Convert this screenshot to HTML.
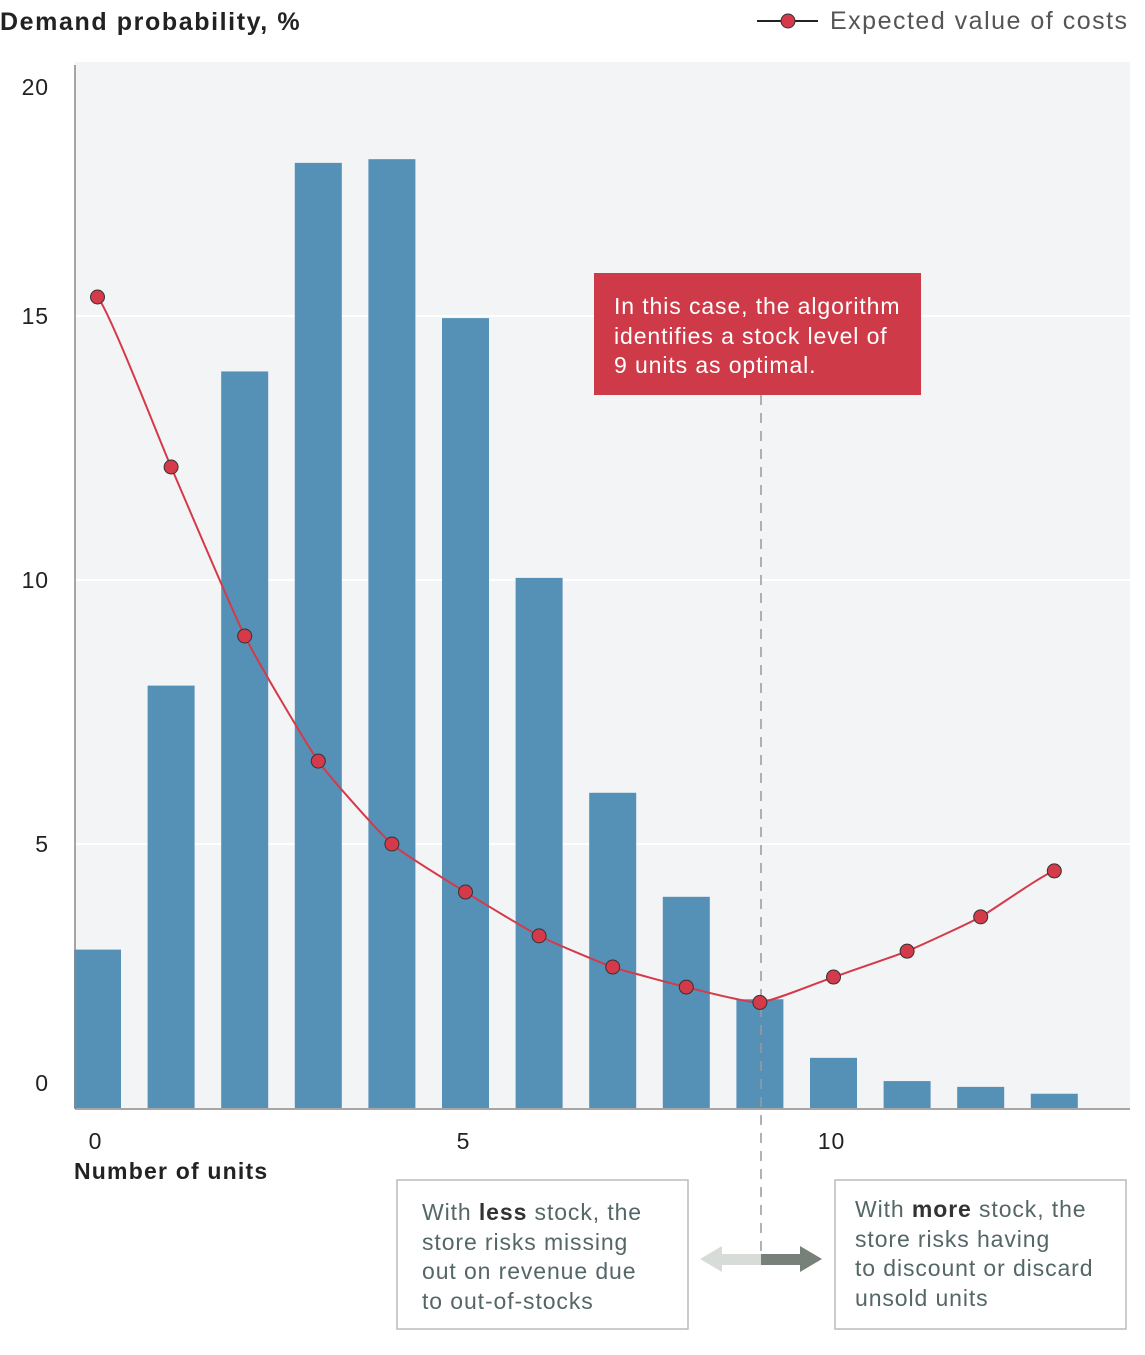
<!DOCTYPE html>
<html><head><meta charset="utf-8"><style>
body{margin:0;background:#fff;font-family:"Liberation Sans",sans-serif;}
svg text{font-family:"Liberation Sans",sans-serif;letter-spacing:0.9px;}
</style></head><body>
<svg id="c" width="1145" height="1350" xmlns="http://www.w3.org/2000/svg">
<rect x="75" y="62" width="1055" height="1046" fill="#f3f4f6"/>
<g id="grid"></g><g id="bars"></g>
<line x1="761" y1="395" x2="761" y2="1255" stroke="#999" stroke-width="1.5" stroke-dasharray="10,8"/>
<g id="line"></g>
<line x1="75" y1="65" x2="75" y2="1109" stroke="#888" stroke-width="1.5"/>
<line x1="75" y1="1109" x2="1130" y2="1109" stroke="#888" stroke-width="1.5"/>
<g id="ylab"></g><g id="xlab"></g>
<text x="0" y="30" font-size="25" font-weight="bold" fill="#222" style="letter-spacing:1.6px">Demand probability, %</text>
<text x="74" y="1179" font-size="23" font-weight="bold" fill="#222" style="letter-spacing:1.2px">Number of units</text>
<g>
<line x1="757" y1="21" x2="818" y2="21" stroke="#222" stroke-width="2"/>
<circle cx="788" cy="21" r="7" fill="#d43a49" stroke="#333" stroke-width="1"/>
<text x="830" y="29" font-size="25" fill="#555" style="letter-spacing:1.5px">Expected value of costs</text>
</g>
<g>
<rect x="594" y="273" width="327" height="122" fill="#cf3a48"/>
<text font-size="23" fill="#fff"><tspan x="614" y="314">In this case, the algorithm</tspan><tspan x="614" y="344">identifies a stock level of</tspan><tspan x="614" y="373">9 units as optimal.</tspan></text>
</g>
<g>
<rect x="397" y="1180" width="291" height="149" fill="#fff" stroke="#bbb" stroke-width="1.5"/>
<text font-size="23" fill="#566"><tspan x="422" y="1220">With <tspan font-weight="bold" fill="#333">less</tspan> stock, the</tspan><tspan x="422" y="1250">store risks missing</tspan><tspan x="422" y="1279">out on revenue due</tspan><tspan x="422" y="1309">to out-of-stocks</tspan></text>
</g>
<g>
<rect x="835" y="1180" width="291" height="149" fill="#fff" stroke="#bbb" stroke-width="1.5"/>
<text font-size="23" fill="#566"><tspan x="855" y="1217">With <tspan font-weight="bold" fill="#333">more</tspan> stock, the</tspan><tspan x="855" y="1247">store risks having</tspan><tspan x="855" y="1276">to discount or discard</tspan><tspan x="855" y="1306">unsold units</tspan></text>
</g>
<g>
<polygon points="700,1259 722,1246 722,1254 761,1254 761,1265 722,1265 722,1272" fill="#d8dcd8"/>
<polygon points="822,1259 800,1246 800,1254 761,1254 761,1265 800,1265 800,1272" fill="#778079"/>
</g>
</svg>
<script>
const categories=[0,1,2,3,4,5,6,7,8,9,10,11,12,13];
const demand=[3.0,8.0,13.95,17.9,17.97,14.96,10.04,5.97,4.0,2.06,0.95,0.51,0.4,0.27];
const costs=[15.36,12.14,8.94,6.57,5.0,4.09,3.26,2.67,2.29,2.0,2.48,2.97,3.62,4.49];
const yTicks=[0,5,10,15,20];
const xTicks=[0,5,10];
const NS="http://www.w3.org/2000/svg";
const X=i=>97.5+i*73.6;
const Y=v=>1108-v*52.8;
function mk(t,a,p){const e=document.createElementNS(NS,t);for(const k in a)e.setAttribute(k,a[k]);document.getElementById(p).appendChild(e);return e;}
yTicks.forEach(v=>{
 if(v>0&&v<20){const g=mk('line',{x1:75,x2:1130,y1:Y(v),y2:Y(v),stroke:'#fff','stroke-width':2},'grid');
 
 }
 let ly=v==0?1091:v==20?95:Y(v)+8;
 const t=mk('text',{x:49,y:ly,'font-size':23,fill:'#222','text-anchor':'end'},'ylab');t.textContent=v;
 
 
});
xTicks.forEach(v=>{const t=mk('text',{x:X(v)-2,y:1149,'font-size':23,fill:'#222','text-anchor':'middle'},'xlab');t.textContent=v;
 
 });
categories.forEach((c,i)=>{const b=mk('rect',{x:X(i)-23.5,y:Y(demand[i]),width:47,height:1108-Y(demand[i]),fill:'#5591b7'},'bars');
 
 });
let d='';
const k=12;
costs.forEach((v,i)=>{if(i==0){d='M'+X(i)+','+Y(v);}else{const x0=X(i-1),y0=Y(costs[i-1]),x1=X(i),y1=Y(v);
 const pm=i>1?Y(costs[i-2]):y0, nx=i<costs.length-1?Y(costs[i+1]):y1;
 d+=` C${x0+k},${y0+(y1-pm)*k/147} ${x1-k},${y1-(nx-y0)*k/147} ${x1},${y1}`;}});
const p=mk('path',{d:d,fill:'none',stroke:'#d43a49','stroke-width':2},'line');


costs.forEach((v,i)=>{const c=mk('circle',{cx:X(i),cy:Y(v),r:7,fill:'#d43a49',stroke:'#333','stroke-width':1},'line');
 
 });
</script>
</body></html>
